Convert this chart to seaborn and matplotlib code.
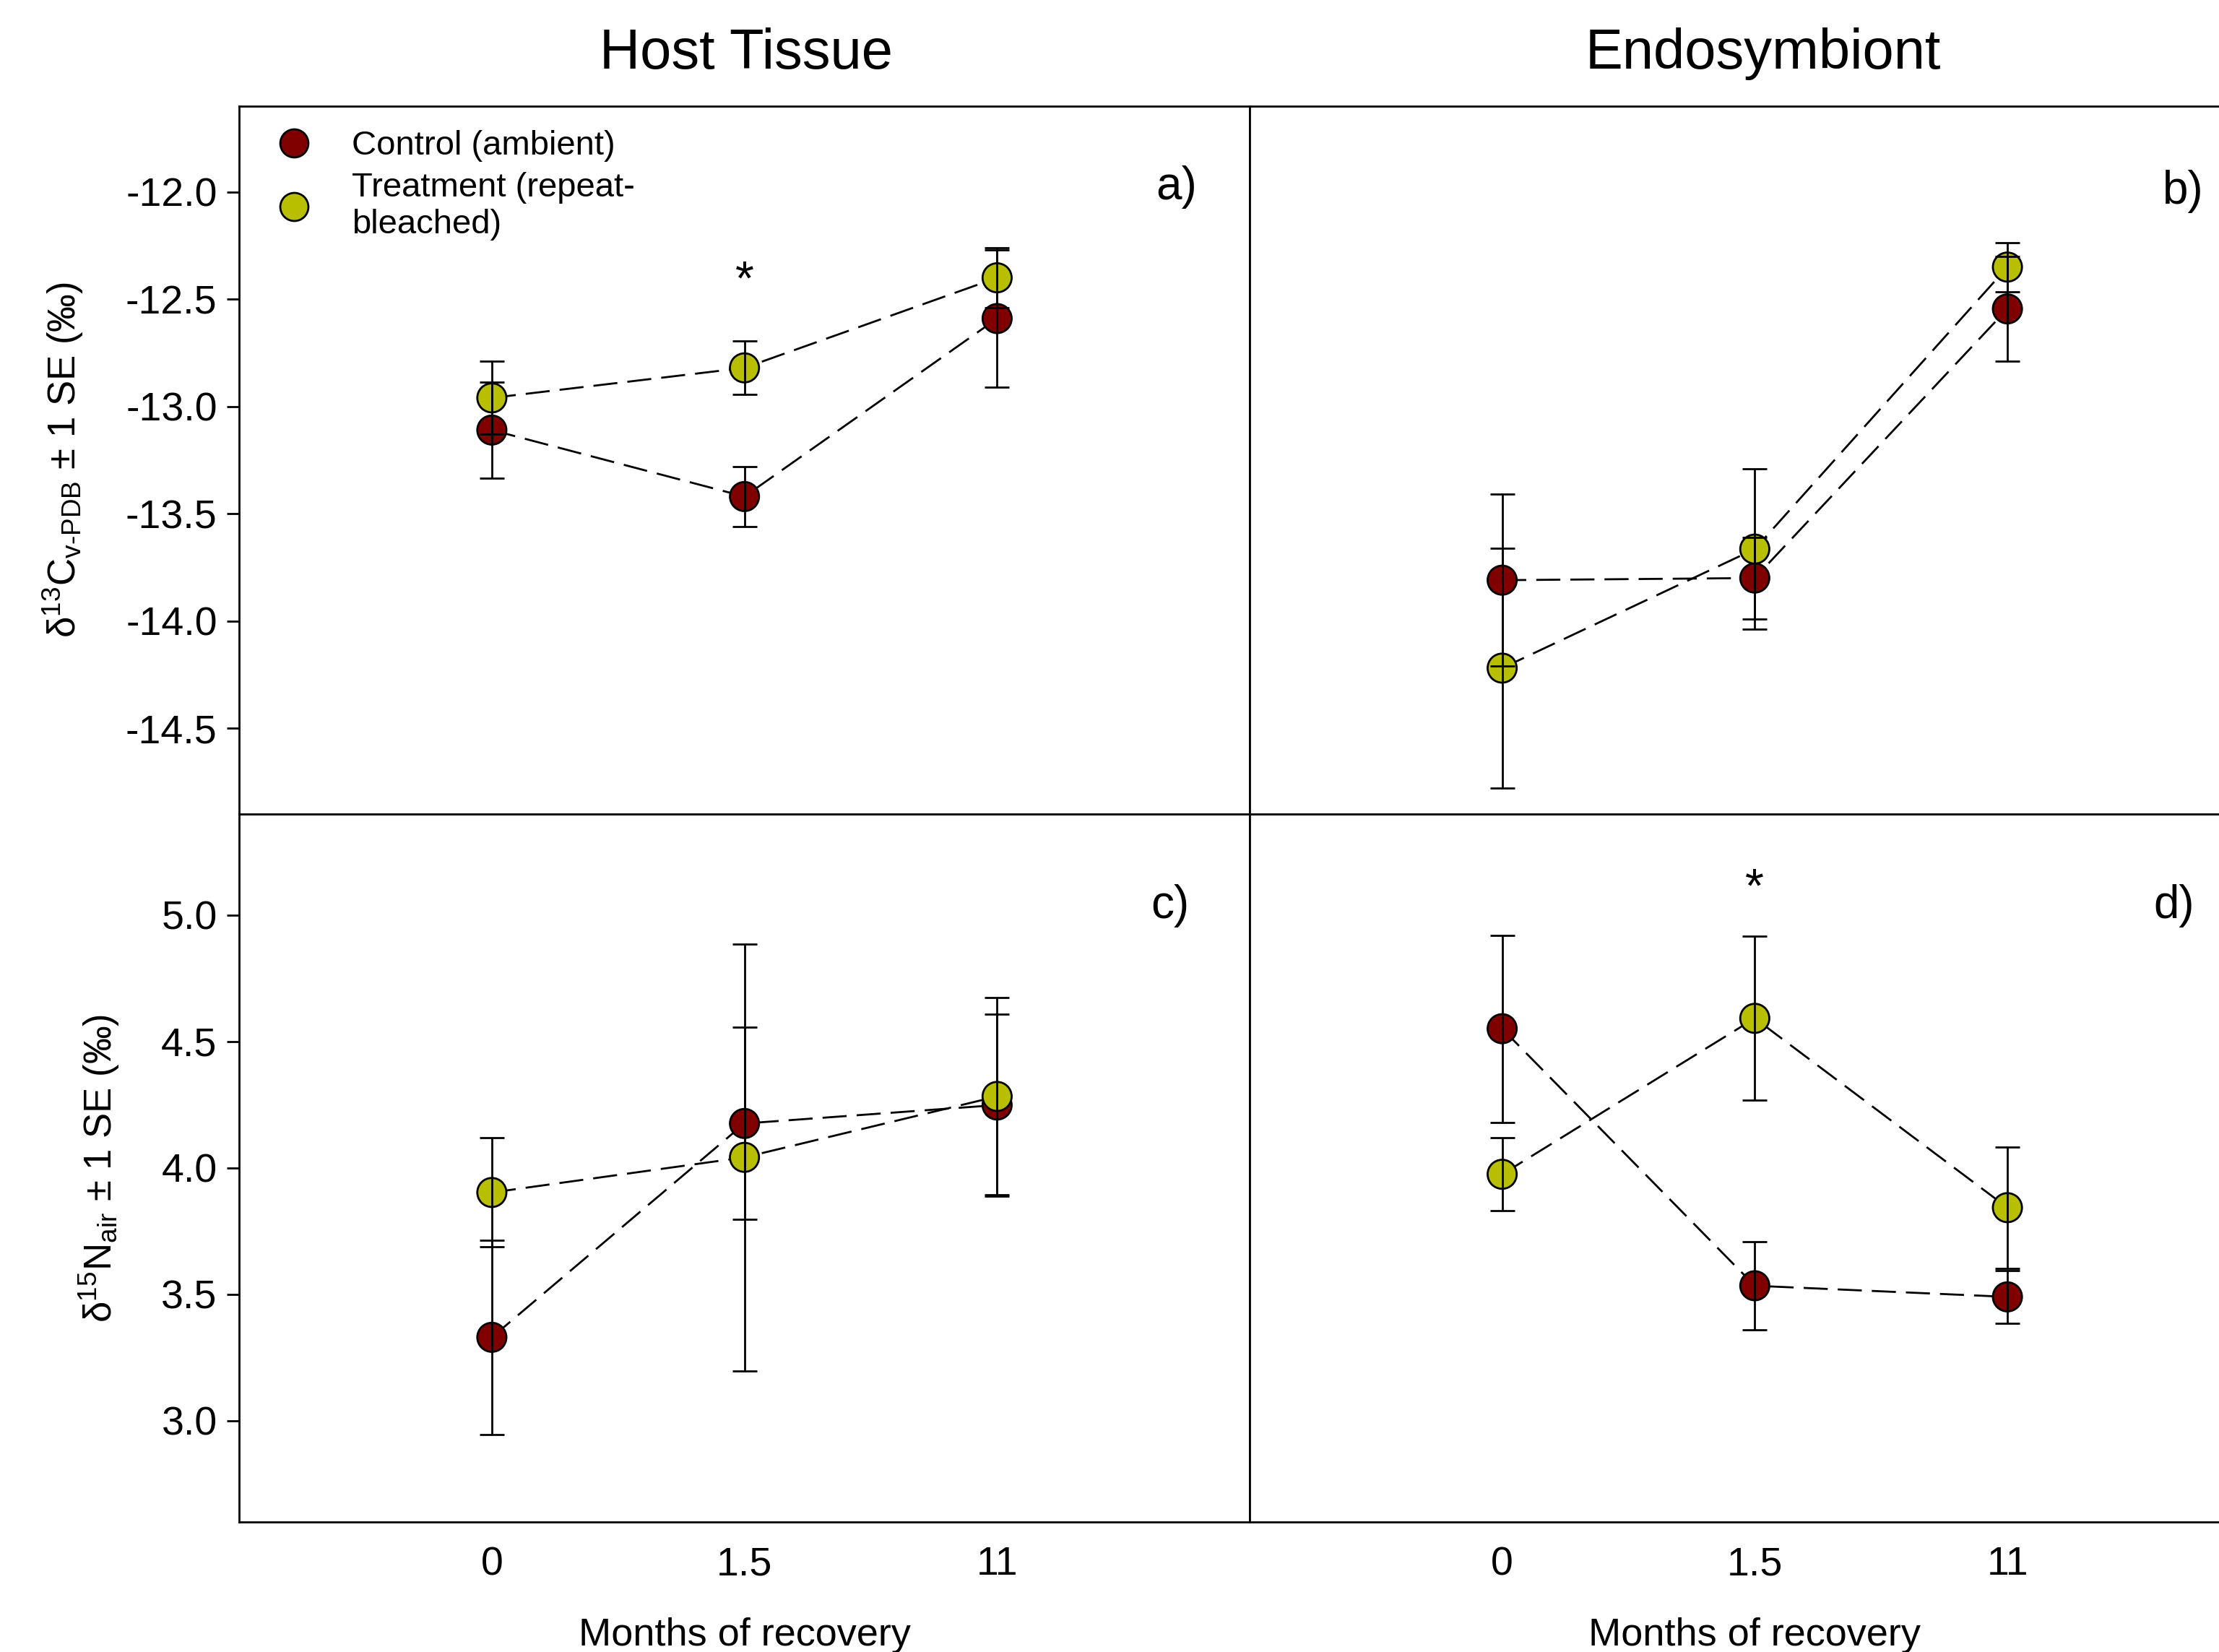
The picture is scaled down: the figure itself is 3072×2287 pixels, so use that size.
import numpy as np
import pandas as pd
import seaborn as sns
import matplotlib.pyplot as plt
from matplotlib.lines import Line2D

# months of recovery (plotted as evenly spaced categories)
months = ["0", "1.5", "11"]

# host tissue, d13C
host_c_ctrl = [-13.11, -13.42, -12.59]
host_c_ctrl_se = [0.225, 0.14, 0.32]
host_c_trt = [-12.96, -12.82, -12.40]
host_c_trt_se = [0.17, 0.125, 0.14]

# endosymbiont, d13C
sym_c_ctrl = [-13.81, -13.80, -12.545]
sym_c_ctrl_se = [0.40, 0.19, 0.245]
sym_c_trt = [-14.22, -13.665, -12.35]
sym_c_trt_se = [0.56, 0.375, 0.115]

# host tissue, d15N
host_n_ctrl = [3.33, 4.176, 4.249]
host_n_ctrl_se = [0.385, 0.38, 0.36]
host_n_trt = [3.903, 4.042, 4.283]
host_n_trt_se = [0.216, 0.845, 0.39]

# endosymbiont, d15N
sym_n_ctrl = [4.551, 3.534, 3.49]
sym_n_ctrl_se = [0.37, 0.173, 0.104]
sym_n_trt = [3.975, 4.592, 3.843]
sym_n_trt_se = [0.145, 0.325, 0.24]

groups = ["Control (ambient)", "Treatment (repeat-\nbleached)"]
colors = {"Control (ambient)": "#800000", "Treatment (repeat-\nbleached)": "#B8BE00"}

sns.set_theme(style="white")
plt.rcParams['font.family'] = ['Liberation Sans', 'DejaVu Sans']
plt.rcParams['mathtext.fontset'] = 'custom'
plt.rcParams['mathtext.rm'] = 'Liberation Sans'
plt.rcParams['mathtext.it'] = 'Liberation Sans:italic'
plt.rcParams['mathtext.bf'] = 'Liberation Sans:bold'
plt.rcParams['axes.unicode_minus'] = False
for key in ('text.color', 'axes.labelcolor', 'xtick.color', 'ytick.color'):
    plt.rcParams[key] = 'black'


def make_df(ctrl, ctrl_se, trt, trt_se):
    df = pd.DataFrame({
        "pos": list(range(3)) * 2,
        "month": months * 2,
        "mean": ctrl + trt,
        "se": ctrl_se + trt_se,
        "group": [groups[0]] * 3 + [groups[1]] * 3,
    })
    return df


def draw_panel(ax, df):
    # dashed connecting lines
    sns.lineplot(data=df, x="pos", y="mean", units="group", estimator=None,
                 color="black", lw=1.0, ax=ax, zorder=1, legend=False)
    for ln in ax.lines:
        ln.set_dashes((12, 5))
    # markers
    sns.scatterplot(data=df, x="pos", y="mean", hue="group", palette=colors,
                    s=210, edgecolor="black", linewidth=1.0, ax=ax, zorder=2,
                    legend=False)
    # error bars on top
    for g in groups:
        d = df[df["group"] == g]
        ax.errorbar(d["pos"], d["mean"], yerr=d["se"], fmt="none",
                    ecolor="black", elinewidth=1.0, capsize=6, capthick=1.0,
                    zorder=3)
    ax.set_xlim(-1, 3)
    ax.set_xlabel("")
    ax.set_ylabel("")


fig = plt.figure(figsize=(15.36, 11.435), dpi=200)
W = 0.4554
H = 0.4284
ax_a = fig.add_axes([0.1078, 0.5073, W, H])
ax_b = fig.add_axes([0.5631, 0.5073, W, H])
ax_c = fig.add_axes([0.1078, 0.0788, W, H])
ax_d = fig.add_axes([0.5631, 0.0788, W, H])

draw_panel(ax_a, make_df(host_c_ctrl, host_c_ctrl_se, host_c_trt, host_c_trt_se))
draw_panel(ax_b, make_df(sym_c_ctrl, sym_c_ctrl_se, sym_c_trt, sym_c_trt_se))
draw_panel(ax_c, make_df(host_n_ctrl, host_n_ctrl_se, host_n_trt, host_n_trt_se))
draw_panel(ax_d, make_df(sym_n_ctrl, sym_n_ctrl_se, sym_n_trt, sym_n_trt_se))

for ax in (ax_a, ax_b):
    ax.set_ylim(-14.9, -11.6)
for ax in (ax_c, ax_d):
    ax.set_ylim(2.6, 5.4)

ax_a.set_yticks(np.arange(-14.5, -11.9, 0.5))
ax_a.set_yticklabels([f"{v:.1f}" for v in np.arange(-14.5, -11.9, 0.5)])
ax_c.set_yticks(np.arange(3.0, 5.01, 0.5))
ax_c.set_yticklabels([f"{v:.1f}" for v in np.arange(3.0, 5.01, 0.5)])

for ax in (ax_a, ax_b, ax_c, ax_d):
    for sp in ax.spines.values():
        sp.set_linewidth(1.0)
        sp.set_color("black")
    ax.tick_params(axis="x", length=0)
    ax.tick_params(axis="y", direction="out", length=6, width=1.0,
                   labelsize=20, left=True, pad=5)

for ax in (ax_b, ax_d):
    ax.set_yticks([])
for ax in (ax_a, ax_b):
    ax.set_xticks([])
for ax in (ax_c, ax_d):
    ax.set_xticks(range(3))
    ax.set_xticklabels(months)
    ax.tick_params(axis="x", labelsize=20, pad=12)
    ax.set_xlabel("Months of recovery", fontsize=19.5, labelpad=17)

ax_a.set_ylabel(r"δ$^{13}$C$_{\mathrm{v\text{-}PDB}}$ ± 1 SE (‰)", fontsize=19, labelpad=20)
ax_c.set_ylabel(r"δ$^{15}$N$_{\mathrm{air}}$ ± 1 SE (‰)", fontsize=19, labelpad=20)

# column titles
ax_a.text(0.502, 1.074, "Host Tissue", transform=ax_a.transAxes,
          ha="center", va="center", fontsize=28)
ax_b.text(0.508, 1.074, "Endosymbiont", transform=ax_b.transAxes,
          ha="center", va="center", fontsize=28)

# panel letters
for ax, lab, xx, yy in ((ax_a, "a)", 0.948, 0.886), (ax_b, "b)", 0.944, 0.88),
                        (ax_c, "c)", 0.94, 0.87), (ax_d, "d)", 0.935, 0.87)):
    ax.text(xx, yy, lab, transform=ax.transAxes, ha="right", va="center", fontsize=23)

# significance markers
ax_a.text(1, -12.42, "*", ha="center", va="center", fontsize=24)
ax_d.text(1, 5.10, "*", ha="center", va="center", fontsize=24)

# legend
handles = [Line2D([], [], marker="o", ls="none", markersize=14, markerfacecolor=colors[g],
                  markeredgecolor="black", markeredgewidth=1.0) for g in groups]
ax_a.legend(handles, groups, loc="upper left", bbox_to_anchor=(0.0, 0.995), frameon=False,
            fontsize=17, handletextpad=0.7, labelspacing=0.3, borderaxespad=0.2)

fig.savefig("out.png", dpi=200)
